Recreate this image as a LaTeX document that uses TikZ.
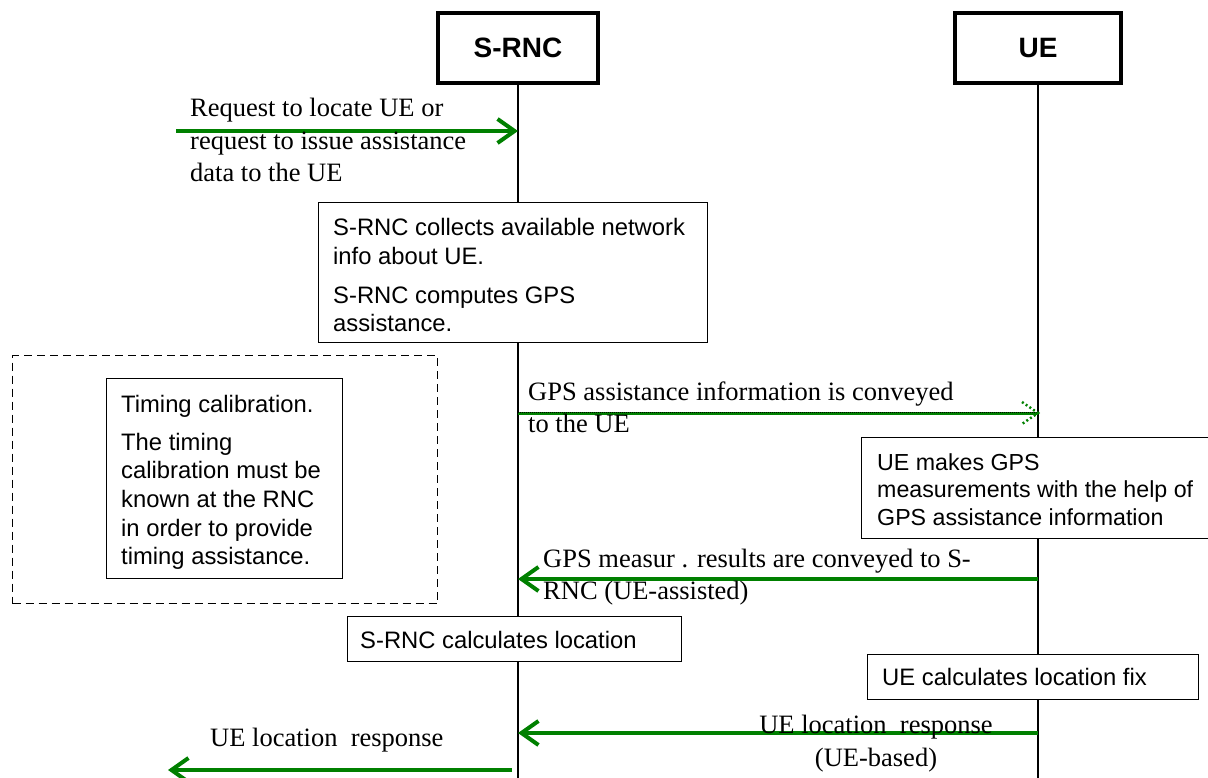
\documentclass[tikz,border=0pt]{standalone}
\usepackage{fontspec}
\setmainfont{Liberation Serif}
\newfontfamily\arialfont{Liberation Sans}
\usetikzlibrary{arrows.meta}
\definecolor{msggreen}{RGB}{0,128,0}

\begin{document}
\begin{tikzpicture}[x=1pt,y=-1pt,
  entity/.style={draw, line width=4pt, fill=white, inner sep=0pt,
    font=\arialfont\bfseries\fontsize{28}{30}\selectfont,
    minimum width=160pt, minimum height=70pt},
  lifeline/.style={line width=1.3pt},
  actbox/.style={draw, line width=1.2pt, fill=white, anchor=north west, inner sep=0pt},
  boxtext/.style={font=\arialfont\fontsize{23.8}{28.7}\selectfont,
    align=left, anchor=base west, inner sep=0pt},
  msgtext/.style={font=\fontsize{26.5}{32.5}\selectfont,
    align=left, anchor=base west, inner sep=0pt},
  msg/.style={draw=msggreen, line width=4pt,
    -{Straight Barb[length=17pt,width=24pt]}},
  dotmsg/.style={draw=msggreen, line width=3pt},
  dotover/.style={draw=black, line width=0.7pt, dash pattern=on 0.8pt off 1.2pt},
  dottip/.style={draw=msggreen, line width=2.5pt, dash pattern=on 2pt off 2.5pt},
]
\useasboundingbox (0,0) rectangle (1208,778);

% entities and lifelines
\node[entity] (srnc) at (518,48) {S-RNC};
\node[entity, minimum width=166pt] (ue) at (1038,48) {UE};
\coordinate (srncfoot) at (518,780);
\coordinate (uefoot) at (1038,780);
\draw[lifeline] (srnc) -- (srncfoot);
\draw[lifeline] (ue) -- (uefoot);

% location request coming into the S-RNC (multi-line texts sit on their last baseline)
\coordinate (reqstart) at (176,131);
\draw[msg] (reqstart) -- (reqstart -| srnc);
\node[msgtext] (reqtxt) at (190,182)
  {Request to locate UE or\\request to issue assistance\\data to the UE};

% S-RNC collects network info
\node[actbox, minimum width=389pt, minimum height=140pt] (collect) at (318,202) {};
\node[boxtext] (collecta) at (333,264.7) {S-RNC collects available network\\info about UE.};
\node[boxtext] (collectb) at (333,331.7) {S-RNC computes GPS\\assistance.};

% timing calibration (optional part)
\node[draw, dashed, dash pattern=on 8pt off 5pt, line width=1.3pt,
  anchor=north west, inner sep=0pt, minimum width=425pt, minimum height=248pt]
  (timingarea) at (12,355) {};
\node[actbox, minimum width=236pt, minimum height=200pt] (timing) at (106,378) {};
\node[boxtext] (timinga) at (121,412) {Timing calibration.};
\node[boxtext] (timingb) at (121,564.8)
  {The timing\\calibration must be\\known at the RNC\\in order to provide\\timing assistance.};

% assistance data to the UE (dotted connector)
\coordinate (assist) at (518,413);
\draw[dotmsg] (assist) -- (assist -| ue);
\draw[dotover] ([yshift=1pt]assist) -- ([yshift=1pt]assist -| ue);
\draw[dottip]
  ([shift={(-16,-11)}]assist -| ue) -- (assist -| ue) -- ([shift={(-16,11)}]assist -| ue);
\node[msgtext] (assisttxt) at (528,432.5) {GPS assistance information is conveyed\\to the UE};

% UE measurements
\node[actbox, minimum width=360pt, minimum height=101pt] (meas) at (861,437) {};
\node[boxtext, font=\arialfont\fontsize{23.2}{27.5}\selectfont] (meastxt) at (877,525)
  {UE makes GPS\\measurements with the help of\\GPS assistance information};

% measurement results back to the S-RNC
\coordinate (results) at (1038,579);
\draw[msg] (results) -- (results -| srnc);
\node[msgtext] (resultstxt) at (543,599.5)
  {GPS measur . results are conveyed to S-\\RNC (UE-assisted)};

% location calculation
\node[actbox, minimum width=334pt, minimum height=45pt] (rnccalc) at (347,616) {};
\node[boxtext] (rnccalctxt) at (360,648) {S-RNC calculates location};
\node[actbox, minimum width=331pt, minimum height=45pt] (uecalc) at (867,654) {};
\node[boxtext] (uecalctxt) at (882,685) {UE calculates location fix};

% location response from the UE
\coordinate (ueresp) at (1038,733);
\draw[msg] (ueresp) -- (ueresp -| srnc);
\node[msgtext, align=center, anchor=base] (ueresptxt) at (876,766)
  {UE location\ \ response\\(UE-based)};

% final location response out of the S-RNC
\coordinate (outstart) at (512,770);
\coordinate (outend) at (168,770);
\draw[msg] (outstart) -- (outend);
\node[msgtext] (outtxt) at (210,746) {UE location\ \ response};
\end{tikzpicture}
\end{document}
